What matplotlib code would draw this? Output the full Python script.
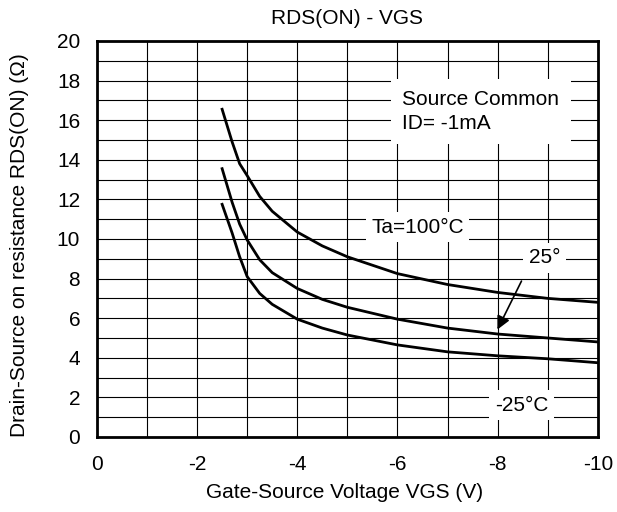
import matplotlib
matplotlib.use("Agg")
import matplotlib.pyplot as plt
from matplotlib.ticker import MultipleLocator

plt.rcParams['font.family'] = ['Liberation Sans', 'DejaVu Sans']

# RDS(ON) vs VGS
vgs = [-2.5, -2.7, -2.85, -3.0, -3.25, -3.5, -4.0, -4.5, -5.0, -6.0, -7.0, -8.0, -9.0, -10.0]
rds_100 = [16.55, 14.9, 13.8, 13.2, 12.15, 11.4, 10.35, 9.65, 9.1, 8.25, 7.7, 7.3, 7.0, 6.8]
rds_25 = [13.55, 11.85, 10.75, 9.95, 8.95, 8.3, 7.5, 6.95, 6.55, 5.95, 5.5, 5.2, 5.0, 4.8]
rds_m25 = [11.75, 10.3, 9.1, 8.1, 7.25, 6.7, 5.95, 5.5, 5.15, 4.65, 4.3, 4.1, 3.95, 3.75]
xticks = [0, -2, -4, -6, -8, -10]

fs = 15
fig = plt.figure(figsize=(6.17, 5.12), dpi=100)
ax = fig.add_axes([0.157, 0.1465, 0.812, 0.7735])

for r in (rds_100, rds_25, rds_m25):
    ax.plot(vgs, r, color='black', lw=2)

ax.set_xlim(0, -10)
ax.set_ylim(0, 20)
ax.set_xticks(xticks)
ax.set_xticklabels([str(t) for t in xticks])
ax.xaxis.set_minor_locator(MultipleLocator(1))
ax.yaxis.set_major_locator(MultipleLocator(2))
ax.yaxis.set_minor_locator(MultipleLocator(1))
ax.grid(True, which='both', color='black', lw=0.8)
ax.set_axisbelow(True)
ax.tick_params(which='both', direction='in', length=0, labelsize=fs)
ax.tick_params(axis='x', pad=13)
ax.tick_params(axis='y', pad=12)
for s in ax.spines.values():
    s.set_linewidth(2)

box = dict(facecolor='white', edgecolor='none', pad=4)
ax.text(-6.1, 16.45, 'Source Common\nID= -1mA', fontsize=fs, va='center',
        ha='left', linespacing=1.35,
        bbox=dict(facecolor='white', edgecolor='none', pad=8))
ax.text(-6.4, 10.6, 'Ta=100°C', fontsize=fs, ha='center', va='center', bbox=box)
ax.text(-8.94, 9.05, '25°', fontsize=fs, ha='center', va='center', bbox=box)
ax.text(-8.48, 1.6, '-25°C', fontsize=fs, ha='center', va='center', bbox=box)
ax.annotate('', xy=(-7.97, 5.3), xytext=(-8.5, 8.0),
            arrowprops=dict(arrowstyle='-|>', color='black', lw=1.2,
                            mutation_scale=20))

fig.text(347 / 617, 1 - 18 / 512, 'RDS(ON) - VGS', fontsize=fs, ha='center', va='center')
fig.text(345 / 617, 1 - 492 / 512, 'Gate-Source Voltage VGS (V)', fontsize=fs,
         ha='center', va='center')
fig.text(20 / 617, 1 - 245 / 512, 'Drain-Source on resistance RDS(ON) (Ω)', fontsize=fs,
         ha='center', va='center', rotation=90)

fig.savefig('out.png', dpi=100)
